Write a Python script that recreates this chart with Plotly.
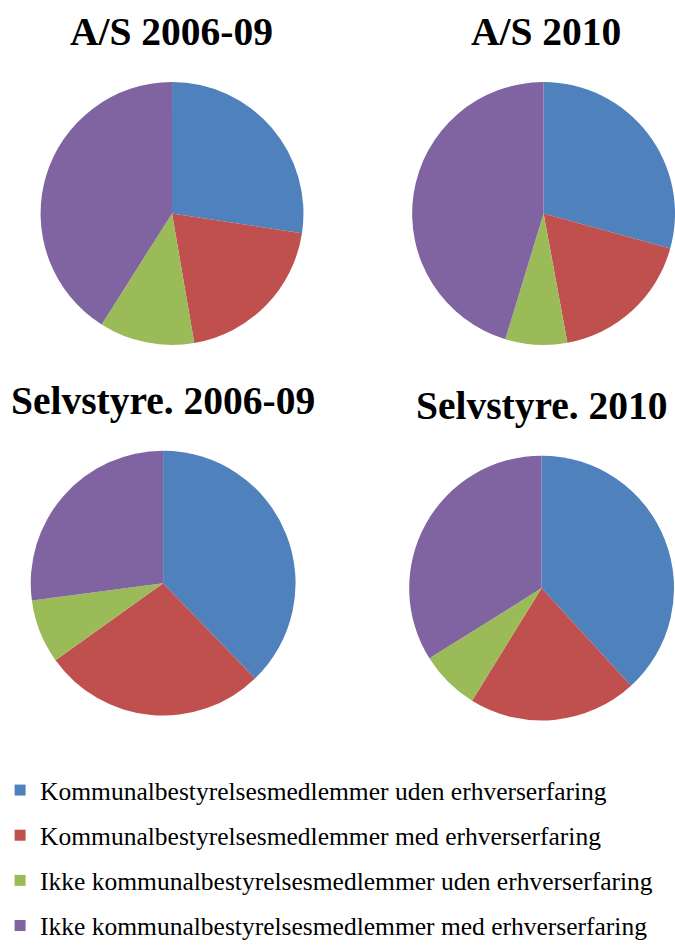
import plotly.graph_objects as go

# Andele (%)
kategorier = ['Kommunalbestyrelsesmedlemmer uden erhverserfaring',
              'Kommunalbestyrelsesmedlemmer med erhverserfaring',
              'Ikke kommunalbestyrelsesmedlemmer uden erhverserfaring',
              'Ikke kommunalbestyrelsesmedlemmer med erhverserfaring']
titler = ['A/S 2006-09', 'A/S 2010', 'Selvstyre. 2006-09', 'Selvstyre. 2010']
as_2006_09 = [27.4, 19.9, 11.7, 41.0]
as_2010 = [29.3, 17.8, 7.6, 45.3]
selvstyre_2006_09 = [37.8, 27.3, 7.8, 27.1]
selvstyre_2010 = [38.2, 20.6, 7.3, 33.9]

FARVER = ['#4F81BD', '#C0504D', '#9BBB59', '#8064A2']
W, H = 675, 949

# centrum og radius (pixel) for hver lagkage
centre = [(166, 216, 133), (544, 216, 133), (157, 590, 134), (540, 595, 134)]
titel_pos = [(165, 32), (544, 32), (157, 406), (540, 411)]


def px_x(x):
    return min(max(x / W, 0), 1)


def px_y(y):
    return 1 - y / H


fig = go.Figure()
for vaerdier, (cx, cy, r) in zip([as_2006_09, as_2010, selvstyre_2006_09, selvstyre_2010], centre):
    cx = min(cx, W - r)  # plotly tillader ikke domæner uden for figuren
    fig.add_trace(go.Pie(
        labels=kategorier, values=vaerdier, sort=False, direction='clockwise', rotation=0,
        marker=dict(colors=FARVER, line=dict(width=0)), textinfo='none', hoverinfo='label+percent',
        showlegend=False,
        domain=dict(x=[px_x(cx - r), px_x(cx + r)], y=[px_y(cy + r), px_y(cy - r)]),
    ))

# dummy-spor til forklaringen (en gruppe pr. kategori for at få luft imellem)
for i, (navn, farve) in enumerate(zip(kategorier, FARVER)):
    fig.add_trace(go.Scatter(x=[None], y=[None], mode='markers', name=navn, legendgroup=str(i),
                             marker=dict(symbol='square', size=11, color=farve)))

for tekst, (cx, cy) in zip(titler, titel_pos):
    fig.add_annotation(text='<b>' + tekst + '</b>', x=px_x(cx), y=px_y(cy), xref='paper', yref='paper',
                       showarrow=False, xanchor='center', yanchor='middle',
                       font=dict(family='Liberation Serif', size=39.5, color='black'))

fig.update_layout(
    width=W, height=H,
    margin=dict(l=0, r=0, t=0, b=0),
    paper_bgcolor='white', plot_bgcolor='white',
    xaxis=dict(visible=False), yaxis=dict(visible=False),
    legend=dict(x=-8 / W, y=px_y(776), xanchor='left', yanchor='top', tracegroupgap=9,
                font=dict(family='Liberation Serif', size=25.5, color='black'),
                itemwidth=30, bgcolor='rgba(0,0,0,0)'),
)

# figuren lægges fast i øverste venstre hjørne, uden sidens standardkant
fast = ("var gd=document.getElementById('{plot_id}');"
        "gd.style.position='fixed';gd.style.left='0px';gd.style.top='0px';"
        "document.body.style.margin='0';document.documentElement.style.overflow='hidden';")
fig.write_html("out.html", config={'displayModeBar': False}, post_script=fast)
